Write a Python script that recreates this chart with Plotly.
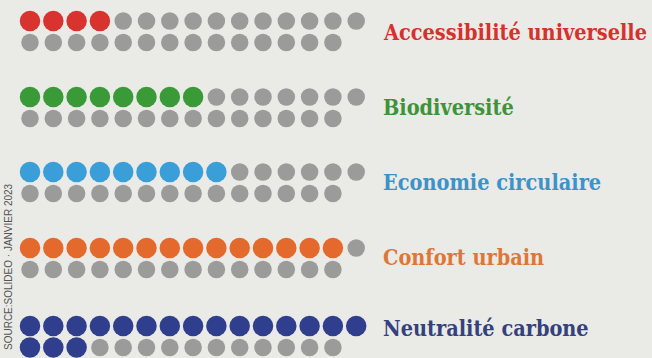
import plotly.graph_objects as go

categories = ["Accessibilité universelle", "Biodiversité", "Economie circulaire",
              "Confort urbain", "Neutralité carbone"]
filled = [4, 8, 9, 14, 18]
total_dots = 29
dot_colors = ["#d8332e", "#3a9a37", "#3a9fd8", "#e4692c", "#2f3f8e"]
text_colors = ["#d6312c", "#3d9438", "#3b93c8", "#dc7837", "#35417c"]
source_text = "SOURCE:SOLIDEO · JANVIER 2023"

W, H = 652, 358
per_row = 15
x0_px, dx_px = 30, 23.3
group_top = [21, 97, 172, 248, 326]
row_gap = 21.5
label_y = [32, 107, 182, 257, 328]

fig = go.Figure()
for g, (cat, n) in enumerate(zip(categories, filled)):
    cx, cy = [], []
    gx, gy = [], []
    for i in range(total_dots):
        r, c = divmod(i, per_row)
        if i < n:
            cx.append(c); cy.append(group_top[g] + r * row_gap)
        else:
            gx.append(c); gy.append(group_top[g] + r * row_gap)
    fig.add_trace(go.Scatter(x=gx, y=gy, mode="markers", hoverinfo="skip",
                             marker=dict(size=17.5, color="#9b9b99", line=dict(width=0))))
    fig.add_trace(go.Scatter(x=cx, y=cy, mode="markers", name=cat,
                             marker=dict(size=20.5, color=dot_colors[g], line=dict(width=0))))
    fig.add_annotation(x=381 / W, xref="paper", y=label_y[g], yref="y",
                       text=f"<b>{cat}</b>", showarrow=False, xanchor="left", yanchor="middle",
                       font=dict(family="DejaVu Serif Condensed, DejaVu Serif, serif",
                                 size=21.5, color=text_colors[g]))

fig.add_annotation(x=8 / W, xref="paper", y=267, yref="y", text=source_text, textangle=-90,
                   showarrow=False, xanchor="center", yanchor="middle",
                   font=dict(family="Liberation Sans Narrow, Liberation Sans, sans-serif",
                             size=10, color="#555555"))

xmin = -x0_px / dx_px
xmax = (W - x0_px) / dx_px
fig.update_layout(
    width=W, height=H, margin=dict(l=0, r=0, t=0, b=0),
    paper_bgcolor="#eaeae7", plot_bgcolor="#eaeae7", showlegend=False,
    xaxis=dict(range=[xmin, xmax], visible=False, fixedrange=True),
    yaxis=dict(range=[H, 0], visible=False, fixedrange=True),
)
fig.write_html("out.html")
